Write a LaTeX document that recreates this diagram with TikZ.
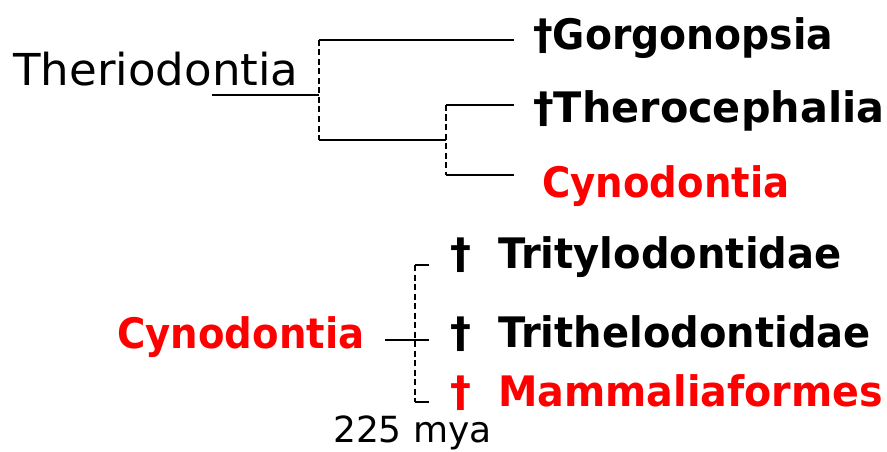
\documentclass[tikz,border=0pt]{standalone}
\usepackage{fontspec}
\setmainfont{DejaVu Sans}
\newcommand{\sx}[2]{\scalebox{#1}[1]{#2}}
\begin{document}
\begin{tikzpicture}[x=1pt,y=-1pt,
  lbl/.style={anchor=base west,inner sep=0pt,font=\fontsize{42}{44}\selectfont\bfseries},
  reg/.style={anchor=base west,inner sep=0pt},
  br/.style={line width=2.2pt},
  dsh/.style={line width=2.2pt,dash pattern=on 6pt off 3.5pt}]
\useasboundingbox (0,0) rectangle (887,452);
% top tree labels
\node[lbl] (gor) at (533,50) {\sx{0.936}{†Gorgonopsia}};
\node[lbl] (ther) at (533,123) {\sx{0.985}{†Therocephalia}};
\node[lbl,text=red] (cyn) at (542,197) {\sx{0.92}{Cynodontia}};
\node[reg,font=\fontsize{44}{46}\selectfont] (thd) at (13,86) {\sx{1.025}{Theriodontia}};
% top tree structure
\coordinate (r0) at (212,95);
\coordinate (v1t) at (319,40);
\coordinate (v1m) at (319,95);
\coordinate (v1b) at (319,140);
\coordinate (v2t) at (446,105);
\coordinate (v2m) at (446,140);
\coordinate (v2b) at (446,175);
\coordinate (e1) at (514,40);
\coordinate (e2) at (514,105);
\coordinate (e3) at (514,175);
\draw[br] (r0) -- (v1m);
\draw[dsh] (v1t) -- (v1b);
\draw[br] (v1t) -- (e1);
\draw[br] (v1b) -- (v2m);
\draw[dsh] (v2t) -- (v2b);
\draw[br] (v2t) -- (e2);
\draw[br] (v2b) -- (e3);
% bottom tree labels
\node[lbl,text=red] (cyn2) at (117,348) {\sx{0.92}{Cynodontia}};
\node[lbl] (trit) at (450,268) {†\hspace{27pt}\sx{0.954}{Tritylodontidae}};
\node[lbl] (trih) at (450,347) {†\hspace{27pt}\sx{0.953}{Trithelodontidae}};
\node[lbl,text=red] (mam) at (450,406) {†\hspace{27pt}\sx{0.943}{Mammaliaformes}};
\node[reg,font=\fontsize{36}{38}\selectfont] (mya) at (333,442) {225 mya};
% bottom tree structure
\coordinate (w0) at (385,340);
\coordinate (wt) at (415,265);
\coordinate (wm) at (429,340);
\coordinate (wb) at (415,402);
\coordinate (tt) at (429,265);
\coordinate (tb) at (429,402);
\draw[dsh] (wt) -- (wb);
\draw[br] (wt) -- (tt);
\draw[br] (wb) -- (tb);
\draw[br] (w0) -- (wm);
\end{tikzpicture}
\end{document}
